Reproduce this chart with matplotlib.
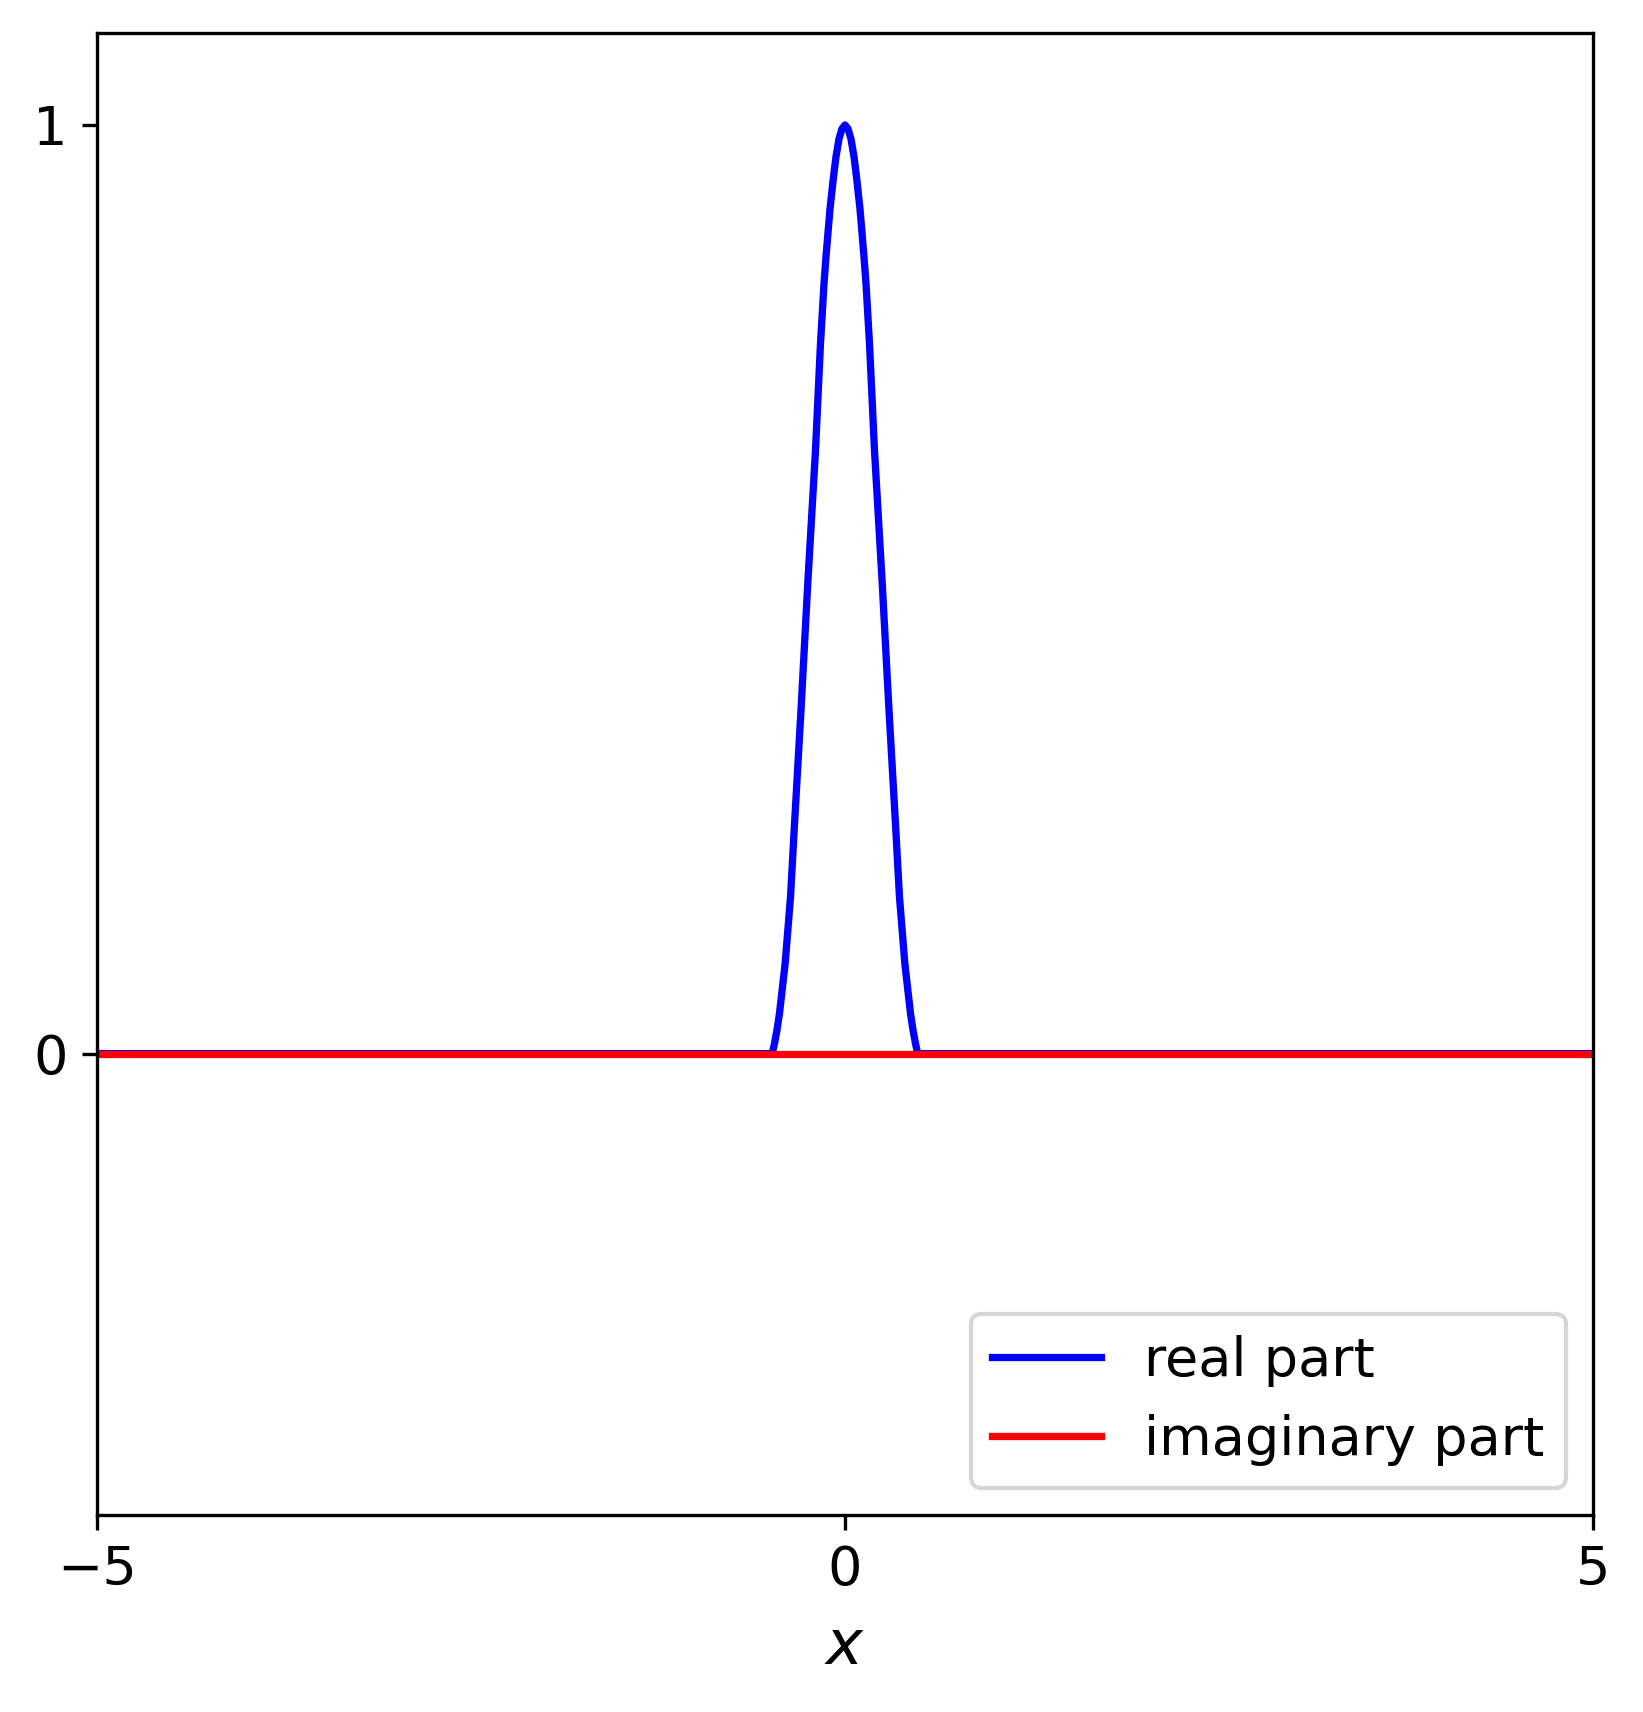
import numpy as np
import matplotlib.pyplot as plt

# real part of the pulse (left half, peak, right half)
x_real = [-5.0, -0.486, -0.471, -0.455, -0.438, -0.400, -0.364, -0.340, -0.293,
          -0.249, -0.197, -0.164, -0.140, -0.126, -0.100, -0.077, -0.060, -0.040,
          -0.020, 0.0,
          0.020, 0.040, 0.060, 0.077, 0.100, 0.126, 0.140, 0.164, 0.197, 0.249,
          0.293, 0.340, 0.364, 0.400, 0.438, 0.455, 0.471, 0.486, 5.0]
y_real = [0.0, 0.0, 0.011, 0.025, 0.043, 0.097, 0.169, 0.240, 0.373,
          0.506, 0.650, 0.764, 0.830, 0.860, 0.910, 0.944, 0.966, 0.985,
          0.996, 1.0,
          0.996, 0.985, 0.966, 0.944, 0.910, 0.860, 0.830, 0.764, 0.650, 0.506,
          0.373, 0.240, 0.169, 0.097, 0.043, 0.025, 0.011, 0.0, 0.0]

# imaginary part is flat zero
x_imag = [-5.0, 5.0]
y_imag = [0.0, 0.0]

xticks = [-5, 0, 5]
yticks = [0, 1]

fs = 13
fig = plt.figure(figsize=(1643 / 300, 1712 / 300), dpi=300)
ax = fig.add_axes([0.0590, 0.1150, 0.9106, 0.8657])

ax.plot(x_real, y_real, color='b', lw=1.75, label='real part')
ax.plot(x_imag, y_imag, color='r', lw=1.75, label='imaginary part')

ax.set_xlim(-5, 5)
ax.set_ylim(-0.497, 1.099)
ax.set_xticks(xticks)
ax.set_yticks(yticks)
ax.tick_params(labelsize=fs)
ax.set_xlabel('$x$', fontsize=15, labelpad=5)

ax.legend(loc='lower right', fontsize=fs)

fig.savefig('out.png', dpi=300)
